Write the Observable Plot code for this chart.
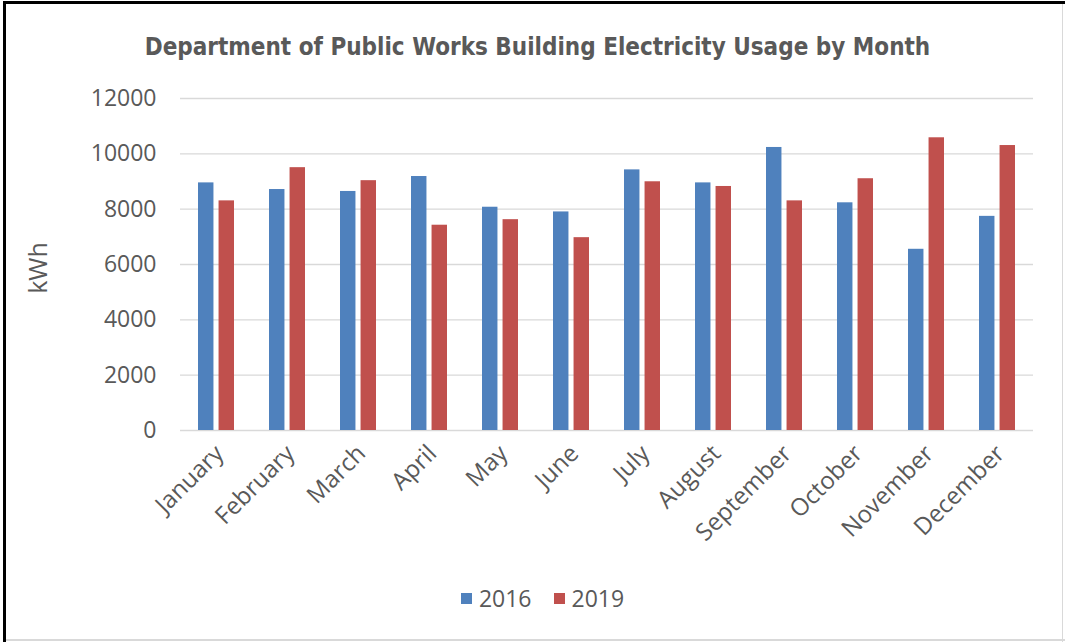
<!DOCTYPE html>
<html>
<head>
<meta charset="utf-8">
<script src="https://cdn.jsdelivr.net/npm/d3@7"></script>
<script src="https://cdn.jsdelivr.net/npm/@observablehq/plot@0.6"></script>
<style>
  html, body { margin: 0; padding: 0; background: #fff; }
  #frame { position: relative; width: 1065px; height: 642px; overflow: hidden; background: #fff; }
  #bt { position: absolute; left: 3px; top: 1px; width: 1062px; height: 3px; background: #000; }
  #bl { position: absolute; left: 3px; top: 1px; width: 3px; height: 641px; background: #000; }
  #br { position: absolute; left: 1062px; top: 4px; width: 1px; height: 638px; background: #d9d9d9; }
  #bb { position: absolute; left: 6px; top: 639px; width: 1059px; height: 2px; background: #d9d9d9; }
  #title { position: absolute; left: 0; top: 33px; width: 1075px; text-align: center;
    font: bold 24px "Liberation Sans Narrow", "DejaVu Sans Condensed", sans-serif; color: #595959; }
  #ylabel { position: absolute; left: 37px; top: 268px; transform: translate(-50%, -50%) rotate(-90deg);
    font: 25px "Open Sans", sans-serif; color: #595959; white-space: nowrap; }
  #chart { position: absolute; left: 0; top: 70px; }
  #legend { position: absolute; left: 0; top: 582px; width: 1085px; display: flex; justify-content: center; gap: 22px;
    font: 23px "Open Sans", sans-serif; color: #595959; }
  .item { display: flex; align-items: center; gap: 7px; }
  .sw { width: 11px; height: 11px; display: inline-block; }
</style>
</head>
<body>
<div id="frame">
  <div id="bt"></div><div id="bl"></div><div id="br"></div><div id="bb"></div>
  <div id="title">Department of Public Works Building Electricity Usage by Month</div>
  <div id="ylabel">kWh</div>
  <div id="chart"></div>
  <div id="legend"></div>
</div>
<script>
const months = ["January","February","March","April","May","June","July","August","September","October","November","December"];
const years = ["2016", "2019"];
const usage2016 = [8950, 8710, 8640, 9180, 8070, 7900, 9420, 8950, 10230, 8230, 6550, 7740];
const usage2019 = [8300, 9500, 9030, 7420, 7620, 6970, 8990, 8820, 8300, 9100, 10580, 10300];
const yTicks = [0, 2000, 4000, 6000, 8000, 10000, 12000];
const colors = ["#4F81BD", "#C0504D"];

const rows2016 = months.map((m, i) => ({month: m, year: years[0], value: usage2016[i]}));
const rows2019 = months.map((m, i) => ({month: m, year: years[1], value: usage2019[i]}));

const W = 1065, ML = 180, MR = 32;
const step = (W - ML - MR) / 12;
const bandw = step * 0.51;
const barW = 15.7;
const inset = bandw - barW;

const chart = Plot.plot({
  width: W,
  height: 490,
  marginLeft: ML,
  marginRight: MR,
  marginTop: 28,
  marginBottom: 130,
  style: { fontFamily: "Open Sans, sans-serif", color: "#595959", background: "transparent" },
  x: { domain: months, paddingInner: 0.49, paddingOuter: 0.245, label: null },
  y: { domain: [0, 12000], label: null },
  color: { domain: years, range: colors },
  marks: [
    Plot.ruleY(yTicks, { stroke: "#D9D9D9", strokeWidth: 1.3 }),
    Plot.barY(rows2016, { x: "month", y: "value", fill: colors[0], insetRight: inset, insetLeft: 0 }),
    Plot.barY(rows2019, { x: "month", y: "value", fill: colors[1], insetLeft: inset, insetRight: 0 }),
    Plot.axisY({ ticks: yTicks, tickSize: 0, tickPadding: 24, tickFormat: d => String(d), fontSize: 23, label: null }),
    Plot.axisX({ tickSize: 0, tickRotate: -45, tickPadding: 19, fontSize: 24, label: null, dx: 3 })
  ]
});
document.getElementById("chart").appendChild(chart);

const legend = document.getElementById("legend");
years.forEach((y, i) => {
  const it = document.createElement("div");
  it.className = "item";
  it.innerHTML = `<span class="sw" style="background:${colors[i]}"></span><span>${y}</span>`;
  legend.appendChild(it);
});
</script>
</body>
</html>
